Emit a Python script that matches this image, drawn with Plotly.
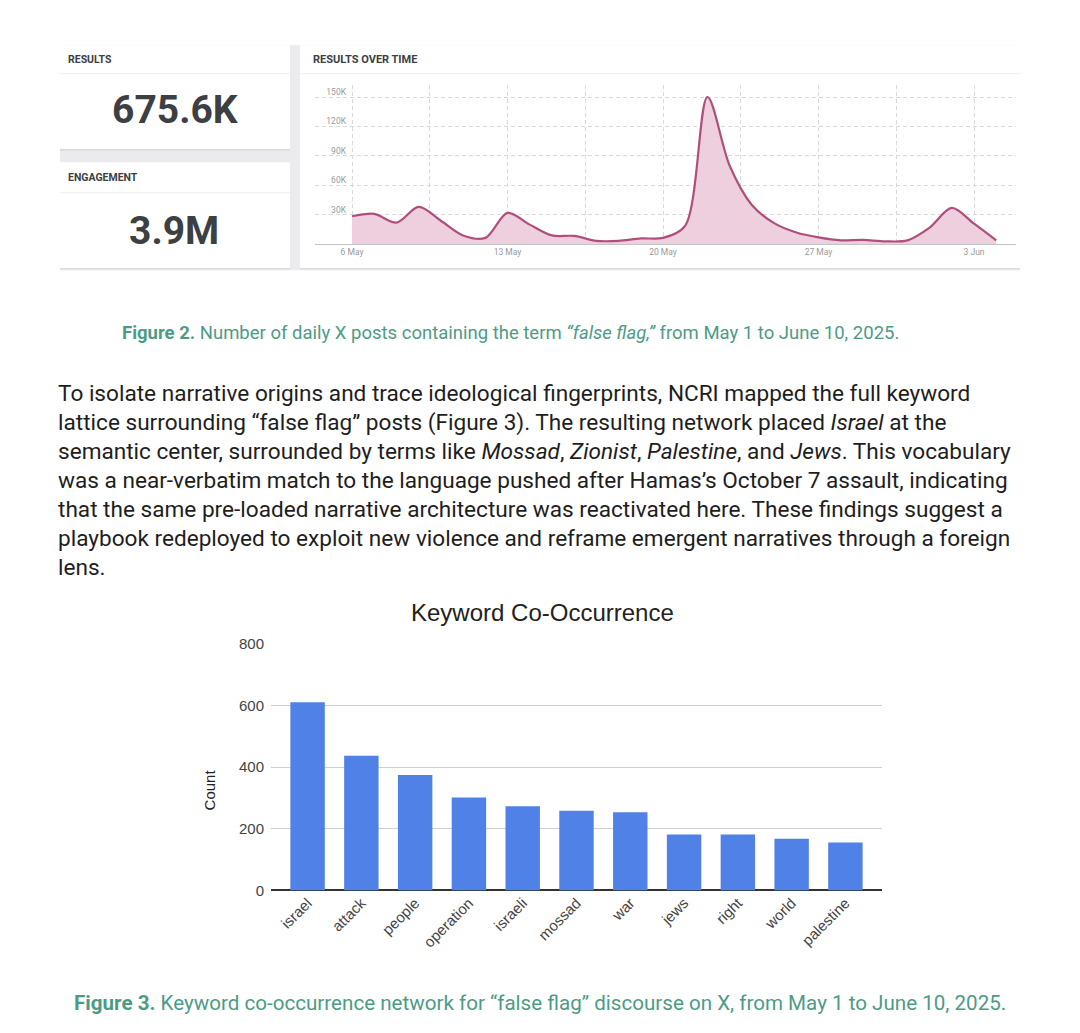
import plotly.graph_objects as go

# ---------------- data ----------------
dates = [
    "2025-05-06", "2025-05-07", "2025-05-08", "2025-05-09", "2025-05-10",
    "2025-05-11", "2025-05-12", "2025-05-13", "2025-05-14", "2025-05-15",
    "2025-05-16", "2025-05-17", "2025-05-18", "2025-05-19", "2025-05-20",
    "2025-05-21", "2025-05-22", "2025-05-23", "2025-05-24", "2025-05-25",
    "2025-05-26", "2025-05-27", "2025-05-28", "2025-05-29", "2025-05-30",
    "2025-05-31", "2025-06-01", "2025-06-02", "2025-06-03", "2025-06-04",
]
daily_posts = [
    28500, 31000, 22000, 38000, 24000,
    9000, 6500, 32000, 20000, 9000,
    8500, 3500, 3500, 6000, 6500,
    19000, 150000, 80000, 40000, 21500,
    12000, 7000, 4000, 4500, 3000,
    4000, 17000, 37000, 21000, 4000,
]
area_tickvals = [30000, 60000, 90000, 120000, 150000]
area_ticktext = ["30K", "60K", "90K", "120K", "150K"]

kpi_labels = ["RESULTS", "ENGAGEMENT"]
kpi_values = ["675.6K", "3.9M"]

keywords = ["israel", "attack", "people", "operation", "israeli", "mossad",
            "war", "jews", "right", "world", "palestine"]
counts = [611, 437, 375, 302, 273, 259, 254, 182, 182, 168, 156]

paragraph_lines = [
    "To isolate narrative origins and trace ideological fingerprints, NCRI mapped the full keyword",
    "lattice surrounding “false flag” posts (Figure 3). The resulting network placed <i>Israel</i> at the",
    "semantic center, surrounded by terms like <i>Mossad</i>, <i>Zionist</i>, <i>Palestine</i>, and <i>Jews</i>. This vocabulary",
    "was a near-verbatim match to the language pushed after Hamas’s October 7 assault, indicating",
    "that the same pre-loaded narrative architecture was reactivated here. These findings suggest a",
    "playbook redeployed to exploit new violence and reframe emergent narratives through a foreign",
    "lens.",
]
caption2 = ("<b>Figure 2.</b> Number of daily X posts containing the term "
            "<i>“false flag,”</i> from May 1 to June 10, 2025.")
caption3 = ("<b>Figure 3.</b> Keyword co-occurrence network for “false flag” "
            "discourse on X, from May 1 to June 10, 2025.")

# ---------------- helpers ----------------
OFF = 8                      # default page body margin
W, H = 1080 - 2 * OFF, 1033 - 2 * OFF
# observed vertical placement of the figure within the captured picture
Y_TOP, Y_SPAN = 15.8, 1000.7


def fx(px):
    return (px - OFF) / W


def fy(py):
    return 1 - (py - Y_TOP) / Y_SPAN


DAY = 86400000
TEAL = "#4d9b86"
GREY_BG = "#ebebed"

fig = go.Figure()

fig.add_trace(go.Scatter(
    x=dates, y=daily_posts, mode="lines",
    line=dict(color="#b14f7c", width=2.2, shape="spline", smoothing=0.9),
    fill="tozeroy", fillcolor="#eecfdd",
    xaxis="x", yaxis="y", hoverinfo="skip",
))

fig.add_trace(go.Bar(
    x=keywords, y=counts, marker=dict(color="#5081e6", line=dict(width=0)),
    xaxis="x2", yaxis="y2", hoverinfo="skip",
))

shapes = []


def rect(x0, y0, x1, y1, color):
    shapes.append(dict(type="rect", xref="paper", yref="paper",
                       x0=fx(x0), x1=fx(x1), y0=fy(y1), y1=fy(y0),
                       fillcolor=color, line=dict(width=0), layer="below"))


def hline(x0, x1, y, color, width=1):
    shapes.append(dict(type="line", xref="paper", yref="paper",
                       x0=fx(x0), x1=fx(x1), y0=fy(y), y1=fy(y),
                       line=dict(color=color, width=width), layer="below"))


# dashboard backgrounds
rect(60, 45, 1020, 270, GREY_BG)
rect(60, 45, 290, 149, "white")
rect(60, 162, 290, 268, "white")
rect(300, 45, 1020, 268, "white")
hline(60, 290, 73.5, "#eeeeee")
hline(60, 290, 192.5, "#eeeeee")
hline(300, 1020, 73.5, "#eeeeee")
hline(60, 290, 149.5, "#d9d9db", 1.5)
hline(60, 290, 268.5, "#dcdcde", 1.5)
hline(300, 1020, 268.5, "#dcdcde", 1.5)

annotations = []


def text(x, y, s, size, color, family="Roboto", xanchor="left", angle=0):
    annotations.append(dict(x=fx(x), y=fy(y), xref="paper", yref="paper",
                            text=s, showarrow=False, xanchor=xanchor,
                            yanchor="middle", textangle=angle,
                            font=dict(family=family, size=size, color=color)))


# KPI cards
text(66, 59, "<b>" + kpi_labels[0] + "</b>", 10.5, "#3c4043")
text(175, 110, "<b>" + kpi_values[0] + "</b>", 39, "#3c4043", xanchor="center")
text(66, 177, "<b>" + kpi_labels[1] + "</b>", 10.5, "#3c4043")
text(174, 231, "<b>" + kpi_values[1] + "</b>", 39, "#3c4043", xanchor="center")
text(311, 59, "<b>RESULTS OVER TIME</b>", 11, "#3c4043")

# captions and paragraph
text(510, 333, caption2, 18.5, TEAL, xanchor="center")
for i, line in enumerate(paragraph_lines):
    text(56, 393 + i * 29.1, line, 22.6, "#1e1e1e")
text(540, 1003, caption3, 20.6, TEAL, xanchor="center")

# bar chart texts
text(542, 612, "Keyword Co-Occurrence", 24, "#222222",
     family="Liberation Sans, Arial", xanchor="center")
text(209, 790, "Count", 15, "#222222", family="Liberation Sans, Arial",
     xanchor="center", angle=-90)

grid_dash = "#d9d9d9"
fig.update_layout(
    width=W, height=H,
    margin=dict(l=0, r=0, t=0, b=0),
    paper_bgcolor="white", plot_bgcolor="rgba(0,0,0,0)",
    showlegend=False,
    shapes=shapes, annotations=annotations,
    bargap=0.36,
    xaxis=dict(
        domain=[fx(315), fx(1016)], anchor="y", type="date",
        range=["2025-05-04 08:00", "2025-06-04 21:20"],
        tick0="2025-05-06", dtick=7 * DAY, tickformat="%-d %b",
        tickfont=dict(family="Roboto", size=8.5, color="#9a9a9a"),
        ticks="", showline=True, linecolor="#c4c4c4", linewidth=1,
        showgrid=True, gridcolor=grid_dash, griddash="4px,3px", gridwidth=1,
        minor=dict(tick0="2025-05-06", dtick=3.5 * DAY, showgrid=True,
                   gridcolor=grid_dash, griddash="4px,3px", gridwidth=1),
        zeroline=False, fixedrange=True,
    ),
    yaxis=dict(
        domain=[fy(244), fy(85)], anchor="free", position=fx(352),
        range=[0, 162000], tickvals=area_tickvals, ticktext=area_ticktext,
        tickfont=dict(family="Roboto", size=8.5, color="#9a9a9a"),
        ticks="", ticklabelstandoff=6, ticklabelshift=-5,
        showgrid=True, gridcolor=grid_dash, griddash="4px,3px", gridwidth=1,
        zeroline=False, showline=False, fixedrange=True,
    ),
    xaxis2=dict(
        domain=[fx(271), fx(882)], anchor="y2",
        range=[-0.68, 10.68], tickangle=-45,
        tickfont=dict(family="Liberation Sans, Arial", size=15, color="#444444"),
        ticks="", showline=False, showgrid=False, zeroline=False,
        fixedrange=True,
    ),
    yaxis2=dict(
        domain=[fy(890), fy(643)], anchor="x2",
        range=[0, 802], tickvals=[0, 200, 400, 600, 800],
        tickfont=dict(family="Liberation Sans, Arial", size=15, color="#444444"),
        ticks="", ticklabelstandoff=6,
        showgrid=True, gridcolor="#cfcfcf", gridwidth=1,
        zeroline=True, zerolinecolor="#333333", zerolinewidth=1.5,
        showline=False, fixedrange=True,
    ),
)

fig.write_html("out.html")
